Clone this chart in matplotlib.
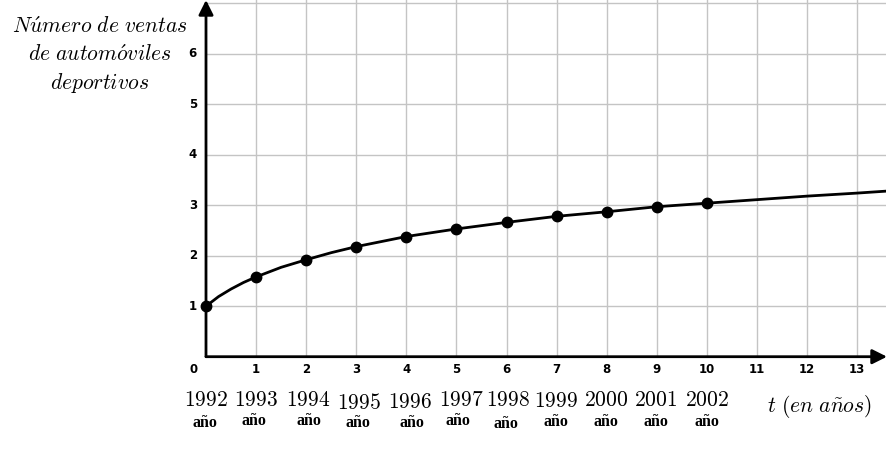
import matplotlib.pyplot as plt

plt.rcParams['mathtext.fontset'] = 'cm'

# data
t_points = [0, 1, 2, 3, 4, 5, 6, 7, 8, 9, 10]
ventas = [1.0, 1.58, 1.92, 2.18, 2.38, 2.53, 2.66, 2.78, 2.87, 2.97, 3.04]

# curve (denser near the start)
t_curve = [0, 0.25, 0.5, 0.75, 1, 1.5, 2, 2.5, 3, 3.5, 4, 5, 6, 7, 8, 9, 10, 11, 12, 13, 13.6]
y_curve = [1.0, 1.19, 1.34, 1.47, 1.58, 1.77, 1.92, 2.06, 2.18, 2.28, 2.38, 2.53, 2.66,
           2.78, 2.87, 2.97, 3.04, 3.11, 3.18, 3.24, 3.28]

x_ticks = list(range(0, 14))
y_ticks = [1, 2, 3, 4, 5, 6]
years = ['1992', '1993', '1994', '1995', '1996', '1997', '1998', '1999', '2000', '2001', '2002']
# label placement in the picture (pixels), slightly hand-placed in the original
year_x = [206, 256, 308, 359, 410, 461, 508, 556, 606, 656, 707]
year_y = [400, 400, 400, 403, 402, 400, 400, 401, 400, 400, 400]
ano_x = [205, 254, 309, 358, 412, 458, 506, 556, 606, 656, 707]
ano_y = [423, 421, 421, 423, 423, 421, 424, 422, 422, 422, 422]

fig = plt.figure(figsize=(8.87, 4.51), dpi=100)
ax = fig.add_axes([206 / 887, (451 - 356.7) / 451, 1 - 206 / 887, 356.7 / 451])
ax.set_xlim(0, 681 / 50.1)
ax.set_ylim(0, 356.7 / 50.5)

# grid
for xv in range(1, 14):
    ax.axvline(xv, color='#c4c4c4', lw=1, zorder=0)
for yv in range(1, 8):
    ax.axhline(yv, color='#c4c4c4', lw=1, zorder=0)

for s in ax.spines.values():
    s.set_visible(False)
ax.set_xticks([])
ax.set_yticks([])

# axes with arrows
ax.annotate('', xy=(0, 1.0), xytext=(0, 0), xycoords='axes fraction',
            arrowprops=dict(arrowstyle='-|>', color='black', lw=2,
                            mutation_scale=22, shrinkA=0, shrinkB=0), annotation_clip=False)
ax.annotate('', xy=(1.0, 0), xytext=(0, 0), xycoords='axes fraction',
            arrowprops=dict(arrowstyle='-|>', color='black', lw=2,
                            mutation_scale=22, shrinkA=0, shrinkB=0), annotation_clip=False)

# curve and points
ax.plot(t_curve, y_curve, color='black', lw=2, zorder=3, clip_on=False)
ax.plot(t_points, ventas, 'o', color='black', ms=7.5, zorder=4, clip_on=False)

# tick labels
for xv in x_ticks:
    xpos = xv if xv > 0 else -0.25
    ax.text(xpos, -0.13, str(xv), ha='center', va='top', fontsize=8.5,
            fontweight='bold', family='DejaVu Sans')
for yv in y_ticks:
    ax.text(-0.18, yv, str(yv), ha='right', va='center', fontsize=8.5,
            fontweight='bold', family='DejaVu Sans')

# year labels (placed in figure pixels)
for i, yr in enumerate(years):
    fig.text(year_x[i] / 887, 1 - year_y[i] / 451, r'$\mathrm{' + yr + '}$',
             ha='center', va='center', fontsize=15.5)
    fig.text(ano_x[i] / 887, 1 - ano_y[i] / 451, 'año', ha='center', va='center',
             fontsize=11.5, fontweight='bold', family='Liberation Serif')

fig.text(819 / 887, 1 - 407 / 451, r'$t\ (en\ a\tilde{n}os)$', ha='center', va='center', fontsize=15.5)

fig.text(100 / 887, 1 - 27 / 451, r'$N\acute{u}mero\ de\ ventas$', ha='center', va='center', fontsize=15.5)
fig.text(100 / 887, 1 - 55 / 451, r'$de\ autom\acute{o}viles$', ha='center', va='center', fontsize=15.5)
fig.text(100 / 887, 1 - 83 / 451, r'$deportivos$', ha='center', va='center', fontsize=15.5)

plt.savefig('out.png', dpi=100)
